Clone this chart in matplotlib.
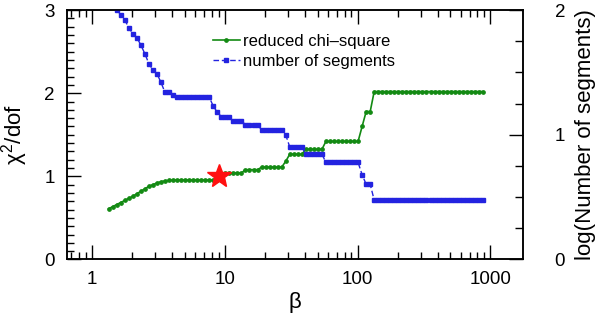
import matplotlib
matplotlib.use('Agg')
import matplotlib.pyplot as plt
from matplotlib.ticker import MultipleLocator, FixedLocator, LogLocator, NullFormatter

plt.rcParams['font.family'] = ['Liberation Sans', 'DejaVu Sans']
plt.rcParams['mathtext.fontset'] = 'custom'
plt.rcParams['mathtext.rm'] = 'Liberation Sans'
plt.rcParams['mathtext.it'] = 'Liberation Sans'

# beta grid
beta = [1.334, 1.430, 1.534, 1.645, 1.764, 1.891, 2.028, 2.174, 2.331, 2.500,
        2.681, 2.875, 3.082, 3.305, 3.544, 3.800, 4.075, 4.369, 4.685, 5.024,
        5.387, 5.776, 6.193, 6.641, 7.121, 7.636, 8.187, 8.779, 9.414, 10.09,
        10.82, 11.61, 12.45, 13.34, 14.30, 15.34, 16.45, 17.64, 18.91, 20.28,
        21.74, 23.31, 25.00, 26.81, 28.75, 30.82, 33.05, 35.44, 38.00, 40.75,
        43.69, 46.85, 50.24, 53.87, 57.76, 61.93, 66.41, 71.21, 76.36, 81.87,
        87.79, 94.14, 100.9, 108.2, 116.1, 124.5, 133.4, 143.0, 153.4, 164.5,
        176.4, 189.1, 202.8, 217.4, 233.1, 250.0, 268.1, 287.5, 308.2, 330.5,
        354.4, 380.0, 407.5, 436.9, 468.5, 502.4, 538.7, 577.6, 619.3, 664.1,
        712.1, 763.6, 818.7, 877.9]

# reduced chi-square
chi2 = [0.61, 0.635, 0.66, 0.685, 0.71, 0.735, 0.76, 0.79, 0.82, 0.85,
        0.88, 0.90, 0.92, 0.935, 0.945, 0.95, 0.955, 0.955, 0.955, 0.955,
        0.955, 0.955, 0.955, 0.955, 0.955, 0.955, 0.955, 0.955, 0.955, 1.04,
        1.04, 1.04, 1.04, 1.04, 1.08, 1.08, 1.08, 1.08, 1.11, 1.11,
        1.11, 1.11, 1.11, 1.11, 1.18, 1.265, 1.265, 1.265, 1.265, 1.325,
        1.325, 1.325, 1.325, 1.325, 1.42, 1.42, 1.42, 1.42, 1.42, 1.42,
        1.42, 1.42, 1.42, 1.6, 1.78, 1.78, 2.02, 2.02, 2.02, 2.02,
        2.02, 2.02, 2.02, 2.02, 2.02, 2.02, 2.02, 2.02, 2.02, 2.02,
        2.02, 2.02, 2.02, 2.02, 2.02, 2.02, 2.02, 2.02, 2.02, 2.02,
        2.02, 2.02, 2.02, 2.02]

# log10(number of segments)
log_nseg = [2.08, 2.04, 2.0, 1.96, 1.92, 1.86, 1.81, 1.78, 1.72, 1.65,
            1.57, 1.52, 1.49, 1.42, 1.34, 1.34, 1.32, 1.301, 1.301, 1.301,
            1.301, 1.301, 1.301, 1.301, 1.301, 1.301, 1.23, 1.18, 1.146, 1.146,
            1.146, 1.114, 1.114, 1.114, 1.079, 1.079, 1.079, 1.079, 1.041, 1.041,
            1.041, 1.041, 1.041, 1.041, 1.0, 0.903, 0.903, 0.903, 0.903, 0.845,
            0.845, 0.845, 0.845, 0.845, 0.778, 0.778, 0.778, 0.778, 0.778, 0.778,
            0.778, 0.778, 0.778, 0.68, 0.602, 0.602, 0.477, 0.477, 0.477, 0.477,
            0.477, 0.477, 0.477, 0.477, 0.477, 0.477, 0.477, 0.477, 0.477, 0.477,
            0.477, 0.477, 0.477, 0.477, 0.477, 0.477, 0.477, 0.477, 0.477, 0.477,
            0.477, 0.477, 0.477, 0.477]

best_beta = 9.0
best_chi2 = 1.0

fig = plt.figure(figsize=(6, 3.16), dpi=100)
ax = fig.add_axes([0.112, 0.179, 0.759, 0.789])
ax2 = ax.twinx()

l1, = ax.plot(beta, chi2, color='#138a13', lw=1.2, marker='o', ms=2.4,
              label='reduced chi\u2013square')
l2, = ax2.plot(beta, log_nseg, color='#2323e0', lw=1.0, ls=(0, (4, 2)),
               marker='s', ms=2.2, label='number of segments')
ax2.plot([best_beta], [best_chi2 * 2 / 3], marker='*', ms=18, color='#ff1010',
         mec='#ff1010', ls='none', zorder=6)

ax.set_xscale('log')
ax.set_xlim(0.65, 1750)
ax.set_ylim(0, 3)
ax2.set_ylim(0, 2)

ax.set_xticks([1, 10, 100, 1000])
ax.set_xticklabels(['1', '10', '100', '1000'])
ax.xaxis.set_minor_locator(LogLocator(base=10, subs=range(2, 10), numticks=20))
ax.xaxis.set_minor_formatter(NullFormatter())
ax.yaxis.set_major_locator(MultipleLocator(1))
ax.yaxis.set_minor_locator(MultipleLocator(0.1))
ax2.yaxis.set_major_locator(FixedLocator([0, 1, 2]))
ax2.yaxis.set_minor_locator(MultipleLocator(0.25))

ax.tick_params(axis='x', which='both', direction='in', top=True, labelsize=13.5, pad=8)
ax.tick_params(axis='y', which='both', direction='in', right=False, labelsize=13.5, pad=9)
ax.tick_params(which='major', length=10, width=1)
ax.tick_params(which='minor', length=5.2, width=1)
ax2.tick_params(axis='y', which='both', direction='in', labelsize=13.5, pad=23)
ax2.tick_params(which='major', length=10, width=1)
ax2.tick_params(which='minor', length=5.5, width=1)

for a in (ax, ax2):
    for s in a.spines.values():
        s.set_linewidth(1.1)

ax.set_xlabel('\u03b2', fontsize=16, labelpad=3)
ax.set_ylabel(r'$\chi^2$/dof', fontsize=16, labelpad=10)
ax2.set_ylabel('log(Number of segments)', fontsize=16, labelpad=7)

ax.legend(handles=[l1, l2], loc='upper left', bbox_to_anchor=(0.32, 0.905),
          frameon=False, fontsize=12, handlelength=1.6, handletextpad=0.2,
          borderpad=0, borderaxespad=0, labelspacing=0.3, numpoints=1)

fig.savefig('out.png', dpi=100)
